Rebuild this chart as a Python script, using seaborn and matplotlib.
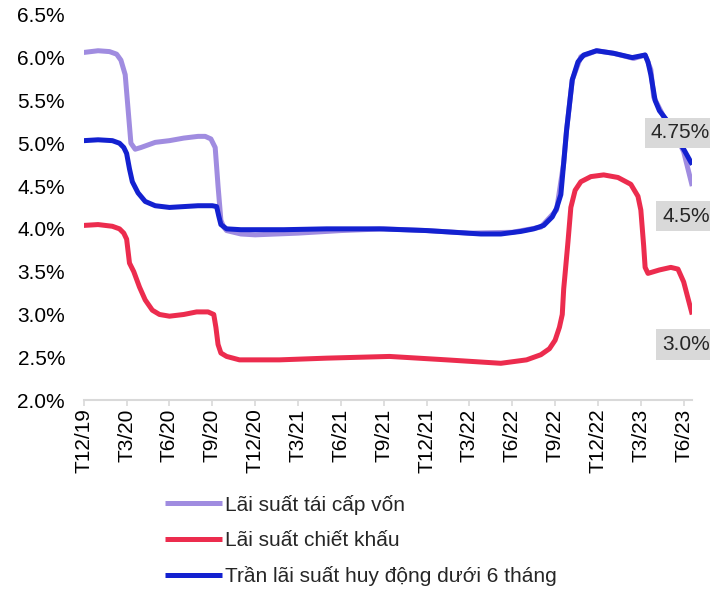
"""
Vietnam policy rates vs. deposit rate ceiling, Dec 2019 - Jun 2023
"""

import numpy as np
import pandas as pd
import matplotlib

matplotlib.use("Agg")
import matplotlib.pyplot as plt
import seaborn as sns

# x positions are months counted from T12/19 (0) to T6/23 (42)
TICK_LABELS = [
    "T12/19", "T3/20", "T6/20", "T9/20", "T12/20", "T3/21", "T6/21", "T9/21",
    "T12/21", "T3/22", "T6/22", "T9/22", "T12/22", "T3/23", "T6/23",
]

SERIES_NAMES = [
    "Lãi suất tái cấp vốn",
    "Lãi suất chiết khấu",
    "Trần lãi suất huy động dưới 6 tháng",
]
COLORS = ["#a08ce0", "#ec2c4e", "#1321d0"]

# values (%)
refi_month = [0, 1, 1.8, 2.3, 2.6, 2.9, 3.1, 3.3, 3.6, 4.0, 5, 6, 7, 8, 8.5,
              8.9, 9.2, 9.4, 9.6, 9.8, 10, 11, 12, 15, 18, 21, 24, 27, 30, 32,
              33.1, 33.6, 33.8, 34.2, 34.8, 35.9, 37.1, 38.5, 39.3, 39.7,
              39.9, 40.6, 41.6, 42, 42.6]
refi_rate = [6.06, 6.08, 6.07, 6.04, 5.97, 5.8, 5.4, 5.0, 4.93, 4.95, 5.01,
             5.03, 5.06, 5.08, 5.08, 5.05, 4.95, 4.5, 4.1, 4.02, 3.98, 3.94,
             3.93, 3.95, 3.98, 4.0, 3.98, 3.95, 3.96, 4.02, 4.22, 4.77, 5.15,
             5.74, 6.01, 6.08, 6.05, 5.99, 6.03, 5.86, 5.54, 5.31, 5.04, 4.9,
             4.5]

disc_month = [0, 1, 2, 2.5, 2.8, 3.0, 3.2, 3.5, 3.9, 4.3, 4.8, 5.3, 6, 7, 7.9,
              8.7, 9.1, 9.25, 9.4, 9.6, 10, 10.9, 13.7, 17, 21.4, 25.4, 29.2,
              31, 32, 32.6, 33.0, 33.3, 33.5, 33.6, 33.7, 33.9, 34.1, 34.4,
              34.8, 35.5, 36.4, 37.4, 38.3, 38.8, 39.0, 39.2, 39.3, 39.5, 40.3,
              41.1, 41.6, 42, 42.6]
disc_rate = [4.04, 4.05, 4.03, 4.0, 3.95, 3.88, 3.6, 3.5, 3.32, 3.17, 3.05,
             3.0, 2.98, 3.0, 3.03, 3.03, 3.0, 2.85, 2.65, 2.55, 2.51, 2.47,
             2.47, 2.49, 2.51, 2.47, 2.43, 2.47, 2.53, 2.6, 2.7, 2.85, 3.0,
             3.3, 3.48, 3.85, 4.25, 4.45, 4.55, 4.61, 4.63, 4.6, 4.52, 4.38,
             4.22, 3.8, 3.55, 3.48, 3.52, 3.55, 3.53, 3.38, 3.0]

cap_month = [0, 1, 2, 2.5, 2.8, 3.0, 3.2, 3.4, 3.8, 4.3, 5, 6, 7, 8, 9, 9.3,
             9.45, 9.6, 10, 11, 14, 17, 20.7, 24, 27.8, 29.2, 30.6, 31.5, 32.2,
             32.8, 33.1, 33.4, 33.6, 33.8, 34.2, 34.6, 35, 35.9, 37.1, 38.4,
             39.0, 39.3, 39.5, 39.7, 40, 40.3, 40.9, 41.6, 42, 42.6]
cap_rate = [5.03, 5.04, 5.03, 5.0, 4.95, 4.88, 4.7, 4.55, 4.42, 4.32, 4.27,
            4.25, 4.26, 4.27, 4.27, 4.26, 4.15, 4.05, 4.0, 3.99, 3.99, 4.0, 4.0,
            3.98, 3.94, 3.94, 3.97, 4.0, 4.04, 4.14, 4.24, 4.4, 4.77, 5.15,
            5.74, 5.95, 6.03, 6.08, 6.05, 6.0, 6.02, 6.03, 5.95, 5.8, 5.5,
            5.38, 5.25, 5.04, 4.93, 4.75]

END_LABELS = ["4.75%", "4.5%", "3.0%"]


def build_frame():
    parts = []
    for name, months, rates in zip(
        SERIES_NAMES,
        [refi_month, disc_month, cap_month],
        [refi_rate, disc_rate, cap_rate],
    ):
        parts.append(pd.DataFrame({"month": months, "rate": rates, "series": name}))
    return pd.concat(parts, ignore_index=True)


def main():
    sns.set_theme(style="white")
    plt.rcParams["font.family"] = ["Liberation Sans", "DejaVu Sans"]
    fs = 15

    df = build_frame()

    fig = plt.figure(figsize=(7.1, 5.91), dpi=100)
    ax = fig.add_axes([0.118, 0.323, 0.857, 0.652])

    sns.lineplot(
        data=df,
        x="month",
        y="rate",
        hue="series",
        hue_order=SERIES_NAMES,
        palette=COLORS,
        estimator=None,
        sort=False,
        linewidth=3.6,
        ax=ax,
    )
    for line in ax.lines:
        line.set_solid_joinstyle("round")
        line.set_solid_capstyle("butt")

    ax.set_xlim(0, 42.6)
    ax.set_ylim(2.0, 6.5)
    ax.set_xticks(np.arange(0, 43, 3))
    ax.set_xticklabels(TICK_LABELS, rotation=90)
    yticks = np.arange(2.0, 6.51, 0.5)
    ax.set_yticks(yticks)
    ax.set_yticklabels([f"{v:.1f}%" for v in yticks])
    ax.set_xlabel("")
    ax.set_ylabel("")

    for side in ["top", "right", "left"]:
        ax.spines[side].set_visible(False)
    ax.spines["bottom"].set_color("#d9d9d9")
    ax.spines["bottom"].set_linewidth(1.5)
    ax.tick_params(axis="x", bottom=True, length=4, width=1.2, color="#d9d9d9",
                   pad=2, labelsize=fs, labelcolor="black")
    ax.tick_params(axis="y", left=False, pad=7.5, labelsize=fs, labelcolor="black")

    # end-of-series value boxes
    box = dict(boxstyle="square,pad=0.28", facecolor="#d9d9d9", edgecolor="none")
    for text, (x, y) in zip(END_LABELS, [(39.7, 5.12), (40.5, 4.15), (40.5, 2.65)]):
        ax.text(x, y, text, ha="left", va="center", fontsize=fs,
                bbox=box, clip_on=False, zorder=5)

    handles, labels = ax.get_legend_handles_labels()
    ax.get_legend().remove()
    fig.legend(
        handles,
        labels,
        loc="upper left",
        bbox_to_anchor=(0.232, 0.163),
        frameon=False,
        borderpad=0,
        borderaxespad=0,
        handlelength=2.75,
        handletextpad=0.15,
        labelspacing=0.78,
        fontsize=fs,
    )

    fig.savefig("out.png", dpi=100)


if __name__ == "__main__":
    main()
